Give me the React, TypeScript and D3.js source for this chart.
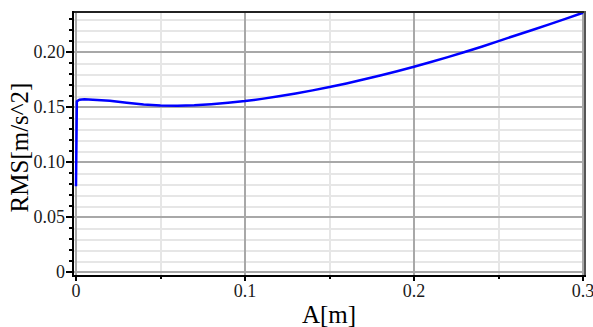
import React, { useEffect, useRef } from 'react';
import * as d3 from 'd3';

// A [m] vs RMS [m/s^2]
const aValues = [
  0, 0.0005, 0.002, 0.005, 0.01, 0.02, 0.03, 0.04, 0.05, 0.06, 0.07, 0.08, 0.09, 0.1, 0.11, 0.12,
  0.13, 0.14, 0.15, 0.16, 0.17, 0.18, 0.19, 0.2, 0.21, 0.22, 0.23, 0.24, 0.25, 0.26, 0.27, 0.28,
  0.29, 0.3,
];
const rmsValues = [
  0.078, 0.155, 0.1565, 0.157, 0.1565, 0.1555, 0.1537, 0.1522, 0.1513, 0.151, 0.1515, 0.1525,
  0.1538, 0.1553, 0.1573, 0.1596, 0.1622, 0.165, 0.168, 0.1713, 0.1748, 0.1785, 0.1824, 0.1864,
  0.1908, 0.1952, 0.1998, 0.2046, 0.2097, 0.2148, 0.2198, 0.2249, 0.2301, 0.2354,
];

const xMajorTicks = [0, 0.1, 0.2, 0.3];
const xMinorTicks = [0.05, 0.15, 0.25];
const yMajorTicks = [0, 0.05, 0.1, 0.15, 0.2];
const yTickLabels = ['0', '0.05', '0.10', '0.15', '0.20'];
const xTickLabels = ['0', '0.1', '0.2', '0.3'];

const App: React.FC = () => {
  const svgRef = useRef<SVGSVGElement | null>(null);

  useEffect(() => {
    const svg = d3.select(svgRef.current);
    const width = 593;
    const height = 327;
    const frame = { left: 73, right: 585, top: 11, bottom: 276 };

    svg.selectAll('*').remove();

    const x = d3.scaleLinear().domain([0, 0.3]).range([76, 583]);
    const y = d3.scaleLinear().domain([0, 0.237]).range([272.3, 11]);

    const yMinor = d3.range(0, 0.2305, 0.01).filter((v) => Math.abs(v * 20 - Math.round(v * 20)) > 1e-6);

    svg.append('rect')
      .attr('x', frame.left)
      .attr('y', frame.top)
      .attr('width', frame.right - frame.left)
      .attr('height', frame.bottom - frame.top)
      .attr('fill', '#fff');

    // grid
    const grid = svg.append('g').attr('shape-rendering', 'crispEdges');
    grid.selectAll('.ymin').data(yMinor).join('line')
      .attr('x1', frame.left).attr('x2', frame.right)
      .attr('y1', (d) => Math.round(y(d)) + 0.5).attr('y2', (d) => Math.round(y(d)) + 0.5)
      .attr('stroke', '#e6e6e6').attr('stroke-width', 2);
    grid.selectAll('.xmin').data(xMinorTicks).join('line')
      .attr('x1', (d) => Math.round(x(d))).attr('x2', (d) => Math.round(x(d)))
      .attr('y1', frame.top).attr('y2', frame.bottom)
      .attr('stroke', '#e6e6e6').attr('stroke-width', 2);
    grid.selectAll('.ymaj').data(yMajorTicks).join('line')
      .attr('x1', frame.left).attr('x2', frame.right)
      .attr('y1', (d) => Math.round(y(d))).attr('y2', (d) => Math.round(y(d)))
      .attr('stroke', '#a8a8a8').attr('stroke-width', 2);
    grid.selectAll('.xmaj').data(xMajorTicks).join('line')
      .attr('x1', (d) => Math.round(x(d))).attr('x2', (d) => Math.round(x(d)))
      .attr('y1', frame.top).attr('y2', frame.bottom)
      .attr('stroke', '#a8a8a8').attr('stroke-width', 2);

    // curve
    const pts = aValues.map((a, i) => [a, rmsValues[i]] as [number, number]);
    svg.append('path')
      .datum(pts)
      .attr('d', d3.line<[number, number]>().x((d) => x(d[0])).y((d) => y(d[1])))
      .attr('fill', 'none')
      .attr('stroke', '#0000ff')
      .attr('stroke-width', 2.5)
      .attr('stroke-linejoin', 'round');

    // frame
    const axes = svg.append('g').attr('shape-rendering', 'crispEdges');
    axes.append('line').attr('x1', frame.left).attr('x2', frame.right).attr('y1', frame.top + 0.5).attr('y2', frame.top + 0.5)
      .attr('stroke', '#222').attr('stroke-width', 2);
    axes.append('line').attr('x1', frame.right).attr('x2', frame.right).attr('y1', frame.top).attr('y2', frame.bottom)
      .attr('stroke', '#555').attr('stroke-width', 2);
    axes.append('line').attr('x1', frame.left).attr('x2', frame.left).attr('y1', frame.top).attr('y2', frame.bottom + 1)
      .attr('stroke', '#000').attr('stroke-width', 2);
    axes.append('line').attr('x1', frame.left - 1).attr('x2', frame.right + 1).attr('y1', frame.bottom).attr('y2', frame.bottom)
      .attr('stroke', '#000').attr('stroke-width', 2);

    // y ticks
    axes.selectAll('.ytmaj').data(yMajorTicks).join('line')
      .attr('x1', frame.left - 7).attr('x2', frame.left)
      .attr('y1', (d) => Math.round(y(d))).attr('y2', (d) => Math.round(y(d)))
      .attr('stroke', '#000').attr('stroke-width', 1.5);
    axes.selectAll('.ytmin').data(yMinor).join('line')
      .attr('x1', frame.left - 4).attr('x2', frame.left)
      .attr('y1', (d) => Math.round(y(d))).attr('y2', (d) => Math.round(y(d)))
      .attr('stroke', '#000').attr('stroke-width', 1.5);
    // x ticks
    axes.selectAll('.xtmaj').data(xMajorTicks).join('line')
      .attr('x1', (d) => Math.round(x(d))).attr('x2', (d) => Math.round(x(d)))
      .attr('y1', frame.bottom).attr('y2', frame.bottom + 5)
      .attr('stroke', '#000').attr('stroke-width', 1.5);
    axes.selectAll('.xtmin').data(xMinorTicks).join('line')
      .attr('x1', (d) => Math.round(x(d))).attr('x2', (d) => Math.round(x(d)))
      .attr('y1', frame.bottom).attr('y2', frame.bottom + 3)
      .attr('stroke', '#000').attr('stroke-width', 1.5);

    const font = '"Liberation Serif", "Times New Roman", serif';

    svg.selectAll('.ylab').data(yMajorTicks).join('text')
      .attr('x', 65)
      .attr('y', (d) => y(d) + 6)
      .attr('text-anchor', 'end')
      .attr('font-family', font)
      .attr('font-size', 18)
      .attr('fill', '#1a1a1a')
      .text((_, i) => yTickLabels[i]);

    svg.selectAll('.xlab').data(xMajorTicks).join('text')
      .attr('x', (d) => x(d))
      .attr('y', 296.5)
      .attr('text-anchor', 'middle')
      .attr('font-family', font)
      .attr('font-size', 18)
      .attr('fill', '#1a1a1a')
      .text((_, i) => xTickLabels[i]);

    svg.append('text')
      .attr('x', 329)
      .attr('y', 323)
      .attr('text-anchor', 'middle')
      .attr('font-family', font)
      .attr('font-size', 25)
      .attr('fill', '#000')
      .text('A[m]');

    svg.append('text')
      .attr('transform', `translate(28,147.5) rotate(-90)`)
      .attr('text-anchor', 'middle')
      .attr('font-family', font)
      .attr('font-size', 25)
      .attr('fill', '#000')
      .text('RMS[m/s^2]');

    svg.attr('width', width).attr('height', height);
  }, []);

  return (
    <svg
      ref={svgRef}
      width={593}
      height={327}
      style={{ position: 'absolute', left: 0, top: 0, display: 'block', background: '#fff' }}
    ></svg>
  );
};

export default App;
